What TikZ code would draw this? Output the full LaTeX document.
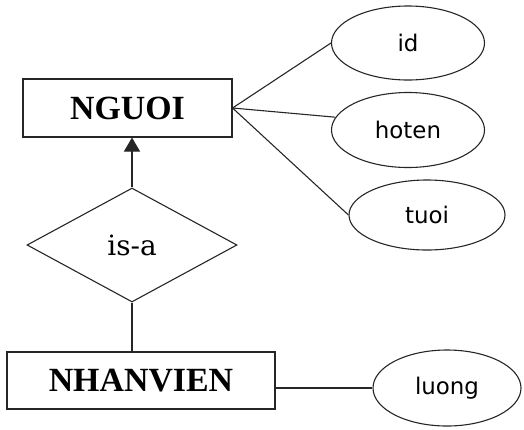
\documentclass[tikz,border=0pt]{standalone}
\usepackage{fontspec}
\setmainfont{Liberation Serif}
\newfontfamily\attrfont{DejaVu Sans}
\newfontfamily\relfont{DejaVu Serif}
\usetikzlibrary{shapes.geometric,arrows.meta}
\begin{document}
\begin{tikzpicture}[x=1bp,y=-1bp,line width=1.1bp,draw=black!85,
  entity/.style={draw,rectangle,inner sep=0pt,font=\fontsize{34}{38}\selectfont\bfseries},
  rel/.style={draw,diamond,inner sep=0pt,font=\relfont\fontsize{28}{32}\selectfont},
  attr/.style={draw,ellipse,inner sep=0pt,font=\attrfont\fontsize{23}{28}\selectfont}]
\useasboundingbox (0,0) rectangle (524,429);
\node[entity,minimum width=209bp,minimum height=58bp] (ng) at (127.5,108) {NGUOI};
\node[entity,minimum width=268bp,minimum height=57bp] (nv) at (141,380.5) {NHANVIEN};
\node[rel,minimum width=210bp,minimum height=114bp] (isa) at (132,245) {is-a};
\node[attr,minimum width=153bp,minimum height=74bp] (id) at (408,43) {id};
\node[attr,minimum width=153bp,minimum height=75bp] (ht) at (408,130) {hoten};
\node[attr,minimum width=156bp,minimum height=70bp] (tu) at (427,215) {tuoi};
\node[attr,minimum width=148bp,minimum height=76bp] (lu) at (447,388) {luong};
\draw[-{Triangle[length=14bp,width=16bp]}] (isa.north) -- (isa.north |- ng.south);
\draw (isa.south) -- (isa.south |- nv.north);
\draw (ng.east) -- (id.west);
\draw (ng.east) -- (ht.170);
\draw (ng.east) -- (tu.west);
\draw (nv.east |- lu.west) -- (lu.west);
\end{tikzpicture}
\end{document}
